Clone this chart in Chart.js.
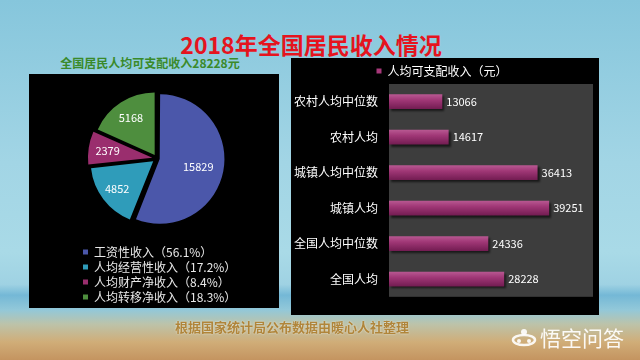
<!DOCTYPE html>
<html><head><meta charset="utf-8">
<script src="https://cdn.jsdelivr.net/npm/chart.js@4.4.0/dist/chart.umd.min.js"></script>
<style>
html,body{margin:0;padding:0;}
body{width:640px;height:360px;overflow:hidden;position:relative;font-family:'Noto Sans CJK SC','Noto Sans',sans-serif;
background:linear-gradient(to bottom,#86c6dc 0%,#a2d5e5 45%,#a9dae7 70%,#9fd2e3 79%,#74b8d6 82%,#92c8d9 86%,#bcc3aa 90%,#d0ad78 95%,#c49460 100%);}
.abs{position:absolute;}
#title{left:0;width:622px;top:28px;text-align:center;color:#e5141e;font-size:23px;font-weight:bold;line-height:32px;}
#sub{left:30px;width:240px;top:55px;text-align:center;color:#3a8a2a;font-size:12px;font-weight:bold;line-height:16px;}
#foot{left:92px;width:400px;top:318px;text-align:center;color:#b0853a;font-size:13px;font-weight:bold;line-height:18px;text-shadow:0 0 2px rgba(255,255,255,0.7);}
#wm{left:540px;top:324px;color:rgba(255,255,255,0.92);font-size:21px;line-height:26px;}
</style></head><body>
<div id="title" class="abs">2018年全国居民收入情况</div>
<div id="sub" class="abs">全国居民人均可支配收入28228元</div>
<div class="abs" style="left:29px;top:74px;width:250px;height:234px;background:#000"></div>
<div class="abs" style="left:291px;top:58px;width:308px;height:257px;background:#000"></div>
<canvas id="pie" class="abs" width="250" height="250" style="left:30px;top:74px"></canvas>
<canvas id="bar" class="abs" width="308" height="257" style="left:291px;top:58px"></canvas>
<div id="foot" class="abs">根据国家统计局公布数据由暖心人社整理</div>
<svg class="abs" style="left:511px;top:327px" width="26" height="22" viewBox="0 0 26 22">
<circle cx="13" cy="5" r="3" fill="rgba(255,255,255,0.9)"/>
<ellipse cx="13" cy="13" rx="11" ry="5" fill="none" stroke="rgba(255,255,255,0.9)" stroke-width="2.5"/>
<circle cx="8" cy="14" r="2" fill="rgba(255,255,255,0.9)"/><circle cx="18" cy="14" r="2" fill="rgba(255,255,255,0.9)"/>
</svg>
<div id="wm" class="abs">悟空问答</div>
<script>
const pieLabels = ['工资性收入（56.1%）','人均经营性收入（17.2%）','人均财产净收入（8.4%）','人均转移净收入（18.3%）'];
const pieValues = [15829, 4852, 2379, 5168];
const pieColors = ['#4b57aa','#2f9cba','#9a2e6e','#4e8e3e'];
const pieOffsets = [11, 19, 19, 17];

const barCategories = ['农村人均中位数','农村人均','城镇人均中位数','城镇人均','全国人均中位数','全国人均'];
const barValues = [13066, 14617, 36413, 39251, 24336, 28228];
const barSeriesName = '人均可支配收入（元）';

Chart.defaults.font.family = "'Noto Sans CJK SC','Noto Sans',sans-serif";
Chart.defaults.animation = false;

function legendHeight(h){
  return {id:'legendHeight', beforeLayout(chart){
    const lg = chart.legend;
    if (lg && !lg._patchedH){
      const orig = lg.fit.bind(lg);
      lg.fit = function(){ orig(); this.height = h; };
      lg._patchedH = true;
    }
  }};
}

const pieLabelPlugin = {id:'pieLabels', afterDatasetsDraw(chart){
  const ctx = chart.ctx; const meta = chart.getDatasetMeta(0);
  ctx.save();
  ctx.font = "11px 'Noto Sans CJK SC','Noto Sans',sans-serif";
  ctx.fillStyle = '#ffffff'; ctx.textAlign = 'center'; ctx.textBaseline = 'middle';
  meta.data.forEach((arc, i) => {
    const p = arc.getProps(['x','y','startAngle','endAngle','outerRadius']);
    const mid = (p.startAngle + p.endAngle) / 2;
    const r = pieOffsets[i] + p.outerRadius * 0.5;
    ctx.fillText(String(pieValues[i]), p.x + Math.cos(mid) * r, p.y + Math.sin(mid) * r);
  });
  ctx.restore();
}};

new Chart(document.getElementById('pie'), {
  type: 'pie',
  data: {labels: pieLabels, datasets: [{data: pieValues, backgroundColor: pieColors, borderWidth: 0, offset: pieOffsets, radius: 62}]},
  options: {
    responsive: false,
    layout: {padding: {left: 50, right: 46, top: 0, bottom: 11}},
    plugins: {
      legend: {position: 'bottom', align: 'start',
        labels: {color: '#e8e8e8', boxWidth: 5, boxHeight: 5, padding: 3, font: {size: 12}}},
      tooltip: {enabled: false}
    }
  },
  plugins: [legendHeight(70), pieLabelPlugin]
});

const plotBg = {id:'plotBg', beforeDatasetsDraw(chart){
  const a = chart.chartArea; const ctx = chart.ctx;
  ctx.save(); ctx.fillStyle = '#3d3d3d'; ctx.fillRect(a.left, a.top, a.right - a.left, a.bottom - a.top); ctx.restore();
}};
const barShadow = {id:'barShadow',
  beforeDatasetsDraw(chart){ const c = chart.ctx; c.save(); c.shadowColor='rgba(0,0,0,0.6)'; c.shadowOffsetX=2; c.shadowOffsetY=2; c.shadowBlur=2; },
  afterDatasetsDraw(chart){
    const c = chart.ctx; c.restore();
    const meta = chart.getDatasetMeta(0);
    c.save();
    c.font = "11px 'Noto Sans CJK SC','Noto Sans',sans-serif";
    c.fillStyle = '#ffffff'; c.textAlign = 'left'; c.textBaseline = 'middle';
    meta.data.forEach((bar, i) => { c.fillText(String(barValues[i]), bar.x + 4, bar.y); });
    c.restore();
  }
};

new Chart(document.getElementById('bar'), {
  type: 'bar',
  data: {labels: barCategories, datasets: [{label: barSeriesName, data: barValues,
    backgroundColor: (c) => {
      const ch = c.chart; const ys = ch.scales && ch.scales.y;
      if (c.type !== 'data' || !ys) return '#9b2f6f';
      const yc = ys.getPixelForValue(c.dataIndex);
      if (!isFinite(yc)) return '#9b2f6f';
      const g = ch.ctx.createLinearGradient(0, yc - 8, 0, yc + 8);
      g.addColorStop(0, '#bb5c95'); g.addColorStop(0.4, '#a03776'); g.addColorStop(1, '#6f1a4f');
      return g;
    },
    borderWidth: 0, categoryPercentage: 0.8, barPercentage: 0.52}]},
  options: {
    responsive: false,
    indexAxis: 'y',
    layout: {padding: {left: 0, right: 6, top: 0, bottom: 8}},
    scales: {
      x: {display: false, min: 0, max: 50000},
      y: {grid: {display: false, drawTicks: false}, border: {display: false},
        ticks: {color: '#ffffff', padding: 11, font: {size: 12}},
        afterFit: (s) => { s.width = 98; }}
    },
    plugins: {
      legend: {position: 'top', align: 'center',
        labels: {color: '#ffffff', boxWidth: 5, boxHeight: 5, padding: 7, font: {size: 12},
          generateLabels: () => [{text: barSeriesName, fillStyle: '#a8387a', strokeStyle: '#a8387a', lineWidth: 0, hidden: false, datasetIndex: 0, fontColor: '#ffffff'}]}},
      tooltip: {enabled: false}
    }
  },
  plugins: [legendHeight(26), plotBg, barShadow]
});
</script>
</body></html>
